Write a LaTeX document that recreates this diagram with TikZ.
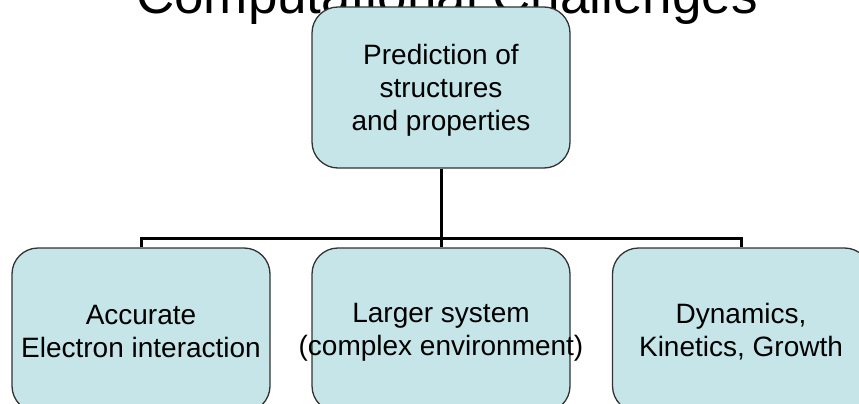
\documentclass[tikz,border=0pt]{standalone}
\usepackage{fontspec}
\setmainfont{Liberation Sans}
\definecolor{boxfill}{RGB}{197,229,232}
\definecolor{boxline}{RGB}{50,50,50}
\begin{document}
\begin{tikzpicture}[x=1pt,y=-1pt,
  box/.style={draw=boxline, line width=1.3pt, fill=boxfill, rounded corners=26pt,
              minimum width=258pt, inner sep=0pt},
  boxtext/.style={align=center, font=\fontsize{28}{33}\selectfont, inner sep=0pt},
  conn/.style={draw=black, line width=3pt}]
\useasboundingbox (0,0) rectangle (859,404);
\clip (0,0) rectangle (859,404);
\node[font=\fontsize{53}{60}\selectfont, anchor=base, inner sep=0pt] (title) at (447,14) {Computational Challenges};
\coordinate (bus) at (441,238);
\node[box, minimum height=161pt] (top) at (441,87.5) {};
\node[box, minimum height=164pt] (b1) at (141,330) {};
\node[box, minimum height=164pt] (b2) at (441,330) {};
\node[box, minimum height=164pt] (b3) at (741.5,330) {};
\draw[conn] (top.south) -- (b2.north);
\draw[conn] (b1.north) |- (bus) -| (b3.north);
\node[boxtext] (t0) at (441,90) {Prediction of\\structures\\and properties};
\node[boxtext] (t1) at (141,332) {Accurate\\Electron interaction};
\node[boxtext] (t2) at (441,332) {Larger system\\(complex environment)};
\node[boxtext] (t3) at (741,332) {Dynamics,\\Kinetics, Growth};
\end{tikzpicture}
\end{document}
